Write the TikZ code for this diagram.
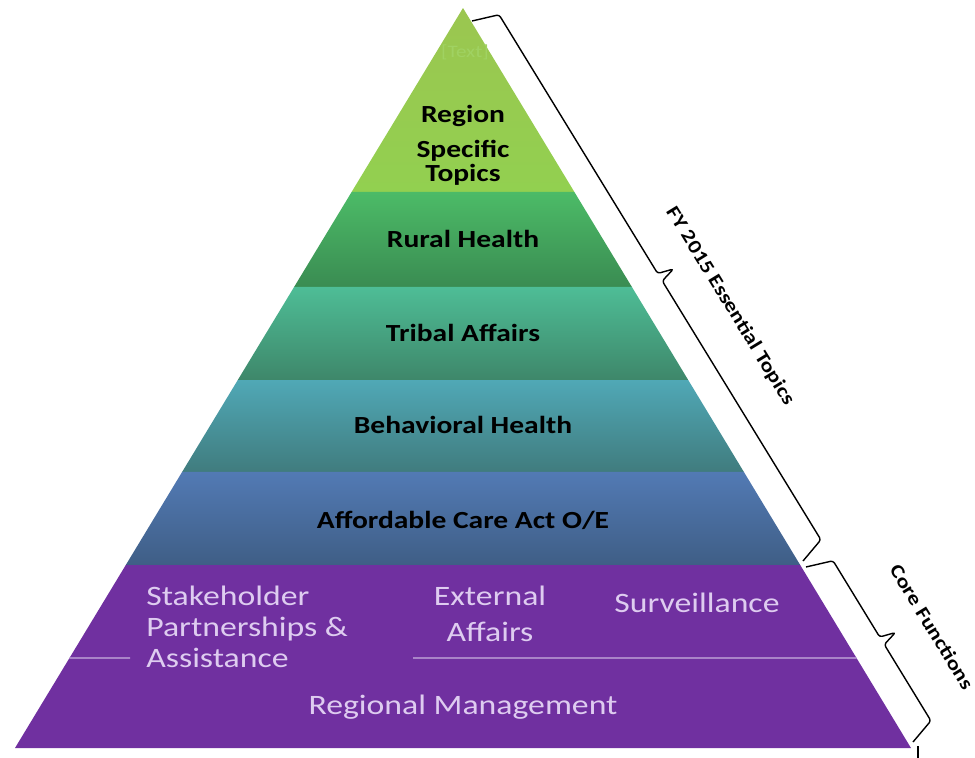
\documentclass[tikz,border=0pt]{standalone}
\usepackage{fontspec}
\setmainfont{Carlito}
\newfontfamily\widefont{Carlito}[FakeStretch=1.2]
\usepackage{tikz}
\usetikzlibrary{positioning,calc}
\definecolor{topA}{RGB}{155,198,80}
\definecolor{topB}{RGB}{146,208,80}
\definecolor{topfaint}{RGB}{160,210,98}
\definecolor{ruralA}{RGB}{76,187,103}
\definecolor{ruralB}{RGB}{58,140,82}
\definecolor{tribalA}{RGB}{78,189,150}
\definecolor{tribalB}{RGB}{62,135,106}
\definecolor{behavA}{RGB}{80,168,182}
\definecolor{behavB}{RGB}{64,124,126}
\definecolor{acaA}{RGB}{82,122,180}
\definecolor{acaB}{RGB}{63,94,134}
\definecolor{corepurple}{RGB}{112,48,160}
\definecolor{lavtext}{RGB}{222,204,240}
\definecolor{lavline}{RGB}{200,176,222}
\tikzset{tierlabel/.style={font=\widefont\bfseries\fontsize{14}{16}\selectfont, text=black, anchor=base, inner sep=0pt}}
\tikzset{corelabel/.style={font=\widefont\fontsize{16}{18}\selectfont, text=lavtext, anchor=base, inner sep=0pt}}
\tikzset{divider/.style={draw=lavline, line width=0.8pt}}
\tikzset{bracket/.style={draw, line width=0.8pt, rounded corners=1.5pt, line join=round}}
\tikzset{sidelabel/.style={font=\widefont\bfseries\fontsize{11}{13}\selectfont, rotate=-58.5, inner sep=0pt}}

\begin{document}
\begin{tikzpicture}[x=0.02cm, y=-0.02cm]
  \useasboundingbox (0,0) rectangle (975,758);
  \coordinate (apex) at (463,8);
  \coordinate (bl) at (15,748);
  \coordinate (br) at (911,748);
  % essential topic tiers
  \foreach \t/\b/\ct/\cb in {0/0.2486/topA/topB, 0.2486/0.3770/ruralA/ruralB, 0.3770/0.5027/tribalA/tribalB, 0.5027/0.6270/behavA/behavB, 0.6270/0.7527/acaA/acaB} {
    \shade[top color=\ct, bottom color=\cb] ($(apex)!\t!(bl)$) -- ($(apex)!\b!(bl)$) -- ($(apex)!\b!(br)$) -- ($(apex)!\t!(br)$) -- cycle;
  }
  % core functions
  \fill[corepurple] ($(apex)!0.7527!(bl)$) -- (bl) -- (br) -- ($(apex)!0.7527!(br)$) -- cycle;
  \coordinate (divl) at ($(apex)!0.8784!(bl)$);
  \coordinate (divr) at ($(apex)!0.8784!(br)$);
  \coordinate (gapl) at (130,658);
  \coordinate (gapr) at (413,658);
  \draw[divider] (divl) -- (gapl);
  \draw[divider] (gapr) -- (divr);

  \node[font=\widefont\fontsize{10}{12}\selectfont, text=topfaint, anchor=base] (placeholder) at (465,57) {[Text]};
  \node[tierlabel] (region) at (463,122) {Region};
  \node[tierlabel] (specific) at (463,157) {Specific};
  \node[tierlabel] (topics) at (463,181) {Topics};
  \node[tierlabel] (rural) at (463,247) {Rural Health};
  \node[tierlabel] (tribal) at (463,341) {Tribal Affairs};
  \node[tierlabel] (behav) at (463,433) {Behavioral Health};
  \node[tierlabel] (aca) at (463,528) {Affordable Care Act O/E};

  \node[corelabel, anchor=base west] (stake1) at (146,605) {Stakeholder};
  \node[corelabel, anchor=base west] (stake2) at (146,636) {Partnerships \&};
  \node[corelabel, anchor=base west] (stake3) at (146,667) {Assistance};
  \node[corelabel] (ext1) at (490,605) {External};
  \node[corelabel] (ext2) at (490,641) {Affairs};
  \node[corelabel] (surv) at (697,612) {Surveillance};
  \node[corelabel] (mgmt) at (463,714) {Regional Management};

  % braces on the right
  \coordinate (fyA) at (472,21);
  \coordinate (fyB) at (803,561);
  \coordinate (cfA) at (806,567);
  \coordinate (cfB) at (913,742);
  \foreach \s/\e in {fyA/fyB, cfA/cfB} {
    \coordinate (mid) at ($(\s)!0.5!(\e)$);
    \draw[bracket] (\s)
      -- ($(\s)!5pt!(\e)!15pt!90:(\e)$)
      -- ($(mid)!-2.5pt!(\e)!15pt!90:(\e)$)
      -- ($(mid)!24pt!90:(\e)$)
      -- ($(mid)!2.5pt!(\e)!15pt!90:(\e)$)
      -- ($(\e)!5pt!(\s)!15pt!-90:(\s)$)
      -- (\e);
  }
  \node[sidelabel] (fylabel) at (730,306) {FY 2015 Essential Topics};
  \node[sidelabel] (cflabel) at (932,627) {Core Functions};
  \coordinate (tickA) at (918,746);
  \coordinate (tickB) at (918,758);
  \draw[line width=1.2pt] (tickA) -- (tickB);
\end{tikzpicture}
\end{document}
